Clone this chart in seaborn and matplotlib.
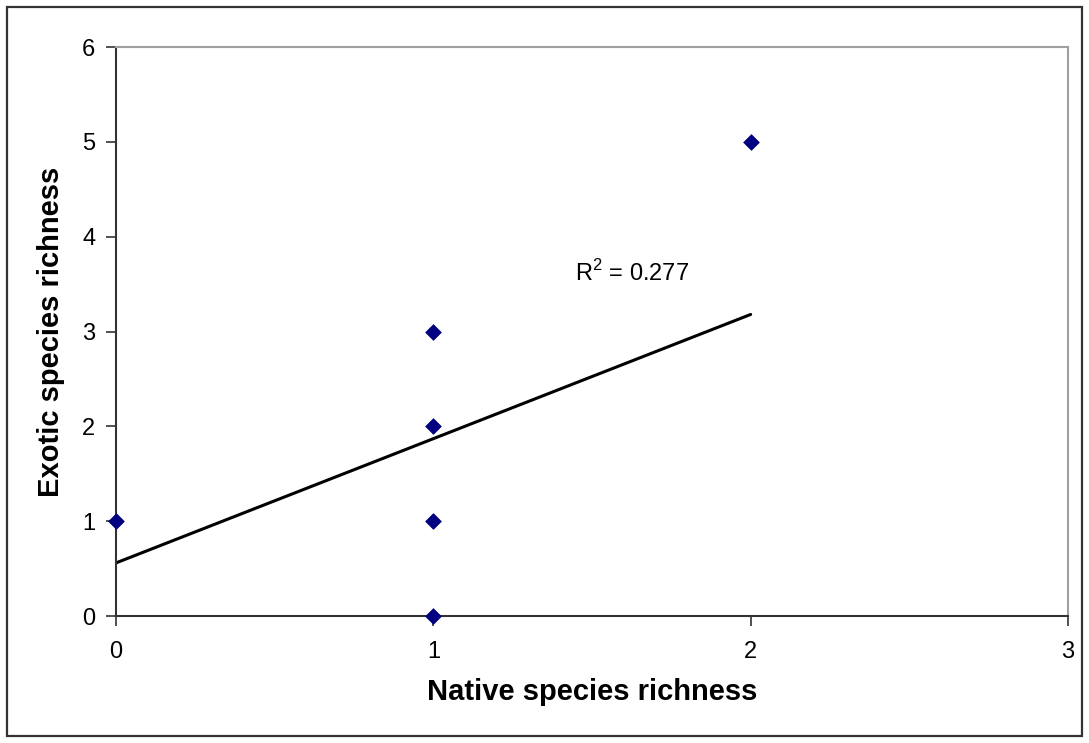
import matplotlib
matplotlib.use("Agg")
import matplotlib.pyplot as plt
import seaborn as sns
import pandas as pd
from matplotlib.patches import Rectangle

# Data
native = [0, 1, 1, 1, 1, 2]
exotic = [1, 3, 2, 1, 0, 5]
# Excel linear trendline endpoints
trend_x = [0, 2]
trend_y = [0.56, 3.18]
r2_label = "R$^2$ = 0.277"

sns.set_style("white")
plt.rcParams['font.family'] = ['Liberation Sans', 'DejaVu Sans']
plt.rcParams['mathtext.fontset'] = 'custom'
plt.rcParams['mathtext.rm'] = 'Liberation Sans'
plt.rcParams['text.color'] = 'black'
plt.rcParams['axes.labelcolor'] = 'black'
plt.rcParams['xtick.color'] = 'black'
plt.rcParams['ytick.color'] = 'black'

df = pd.DataFrame({'native': native, 'exotic': exotic})
trend = pd.DataFrame({'x': trend_x, 'y': trend_y})

fig = plt.figure(figsize=(10.89, 7.43), dpi=100)
ax = fig.add_axes([0.1065, 0.1709, 0.8742, 0.7658])

sns.lineplot(data=trend, x='x', y='y', color='black', linewidth=2.2, ax=ax, zorder=2)
sns.scatterplot(data=df, x='native', y='exotic', marker='D', s=64, color='#000080',
                edgecolor='#000080', linewidth=0.5, ax=ax, zorder=3, clip_on=False)

ax.set_xlim(0, 3)
ax.set_ylim(0, 6)
ax.set_xticks([0, 1, 2, 3])
ax.set_yticks([0, 1, 2, 3, 4, 5, 6])
ax.tick_params(axis='both', labelsize=17, direction='out', length=7, width=1.2,
               color='#333333', labelcolor='black', left=True, bottom=True)
ax.tick_params(axis='y', pad=8)
ax.tick_params(axis='x', pad=11)

ax.set_xlabel('Native species richness', fontsize=21, fontweight='bold', labelpad=11)
ax.set_ylabel('Exotic species richness', fontsize=21, fontweight='bold', labelpad=12)

for side in ['left', 'bottom']:
    ax.spines[side].set_color('#333333')
    ax.spines[side].set_linewidth(1.5)
for side in ['top', 'right']:
    ax.spines[side].set_color('#a0a0a0')
    ax.spines[side].set_linewidth(1.5)

ax.text(1.445, 3.62, r2_label, fontsize=17, va='center', ha='left')

# outer chart border
fig.patches.append(Rectangle((7 / 1089, 7 / 743), 1 - 14 / 1089, 1 - 14 / 743,
                             transform=fig.transFigure, fill=False,
                             edgecolor='#333333', linewidth=1.6))

fig.savefig('out.png', dpi=100)
